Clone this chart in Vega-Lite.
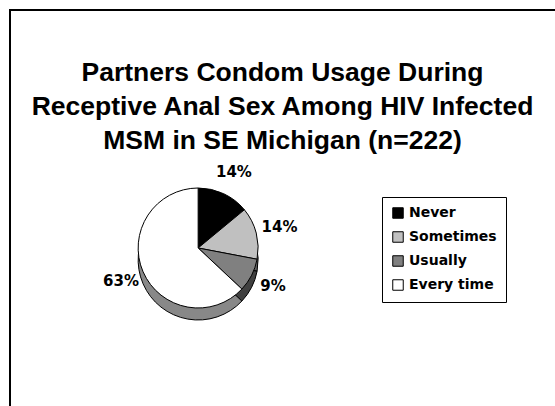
{
  "$schema": "https://vega.github.io/schema/vega-lite/v6.json",
  "width": 555,
  "height": 406,
  "autosize": {"type": "fit", "contains": "padding"},
  "padding": {"left": 10, "top": 10, "right": -10, "bottom": -10},
  "background": "white",
  "config": {"view": {"stroke": "black", "strokeWidth": 2}},
  "title": {
    "text": ["Partners Condom Usage During", "Receptive Anal Sex Among HIV Infected", "MSM in SE Michigan (n=222)"],
    "font": "Liberation Sans",
    "fontSize": 26.5,
    "fontWeight": "bold",
    "color": "black",
    "lineHeight": 34,
    "anchor": "middle",
    "frame": "group",
    "offset": -144,
    "dx": -5
  },
  "data": {
    "values": [
      {"category": "Never", "percent": 14, "label": "14%", "k": 1},
      {"category": "Sometimes", "percent": 14, "label": "14%", "k": 2},
      {"category": "Usually", "percent": 9, "label": "9%", "k": 3},
      {"category": "Every time", "percent": 63, "label": "63%", "k": 4}
    ]
  },
  "encoding": {
    "theta": {"field": "percent", "type": "quantitative", "stack": true},
    "order": {"field": "k", "type": "quantitative"},
    "x": {"datum": 0.339, "type": "quantitative", "scale": {"domain": [0, 1]}, "axis": null},
    "y": {"datum": 0.4138, "type": "quantitative", "scale": {"domain": [0, 1]}, "axis": null}
  },
  "layer": [
    {
      "mark": {"type": "arc", "outerRadius": 60, "yOffset": 12, "stroke": "black", "strokeWidth": 1},
      "encoding": {
        "color": {
          "field": "category",
          "type": "nominal",
          "scale": {"domain": ["Never", "Sometimes", "Usually", "Every time"], "range": ["#000000", "#606060", "#404040", "#888888"]},
          "legend": null
        }
      }
    },
    {
      "mark": {"type": "arc", "outerRadius": 60, "stroke": "black", "strokeWidth": 1},
      "encoding": {
        "color": {
          "field": "category",
          "type": "nominal",
          "scale": {"domain": ["Never", "Sometimes", "Usually", "Every time"], "range": ["#000000", "#c0c0c0", "#808080", "#ffffff"]},
          "legend": {
            "title": null,
            "orient": "none",
            "legendX": 372,
            "legendY": 187,
            "strokeColor": "black",
            "fillColor": "white",
            "padding": 9,
            "symbolType": "square",
            "symbolSize": 110,
            "symbolStrokeColor": "black",
            "symbolStrokeWidth": 1,
            "labelFont": "DejaVu Sans",
            "labelFontWeight": "bold",
            "labelFontSize": 14,
            "labelColor": "black",
            "rowPadding": 8,
            "labelOffset": 4
          }
        }
      }
    },
    {
      "mark": {"type": "text", "radius": 84, "font": "DejaVu Sans", "fontWeight": "bold", "fontSize": 15, "color": "black"},
      "encoding": {"text": {"field": "label", "type": "nominal"}}
    }
  ],
  "resolve": {"scale": {"color": "independent"}, "legend": {"color": "independent"}}
}
